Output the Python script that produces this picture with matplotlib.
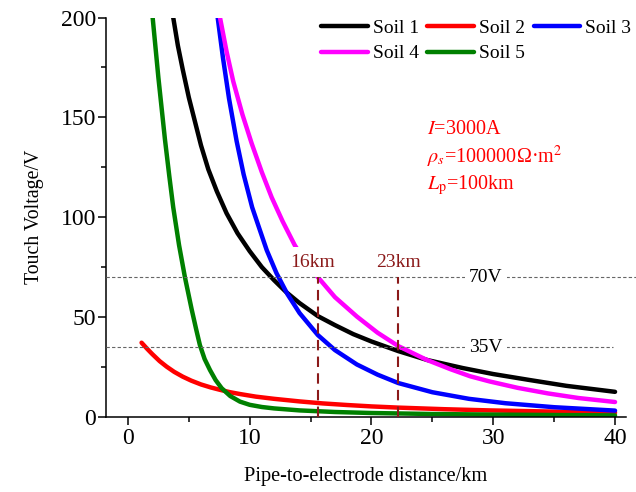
import numpy as np
import matplotlib
matplotlib.use("Agg")
import matplotlib.pyplot as plt

plt.rcParams['font.family'] = ['Liberation Serif', 'DejaVu Serif']
plt.rcParams['mathtext.fontset'] = 'stix'

# curve data (distance km, touch voltage V)
soil1_x = [3.72, 4.1, 4.5, 5.0, 5.5, 6.0, 6.6, 7.3, 8.1, 9.0, 10.0, 11.0, 12.0, 13.0, 14.1,
           15.6, 17.0, 18.5, 20.0, 22.2, 24.6, 27.5, 30.0, 33.0, 36.0, 40.0]
soil1_y = [200, 186, 174, 160, 148, 136, 124, 113, 102, 92, 83, 75, 68.5, 62.5, 57,
           50.5, 46, 41.5, 37.8, 33, 28.5, 24.5, 21.5, 18.5, 15.6, 12.6]

soil2_x = [1.12, 1.6, 2.0, 2.6, 3.18, 3.8, 4.5, 5.2, 6.0, 6.8, 7.56, 8.4, 9.2, 10.5, 12,
           14.1, 16, 18, 20, 22.2, 26, 29.7, 35, 40]
soil2_y = [37.2, 34, 31.5, 28, 25.2, 22.6, 20.2, 18.2, 16.3, 14.8, 13.6, 12.4, 11.5, 10.2, 9.1,
           7.8, 6.8, 6.0, 5.3, 4.7, 3.9, 3.3, 2.7, 2.2]

soil3_x = [7.37, 7.8, 8.3, 8.93, 9.5, 10.2, 10.7, 11.4, 12.2, 13.1, 14.1, 15.6, 17.0, 18.8,
           20.5, 22.2, 25, 28, 31, 35, 40]
soil3_y = [200, 180, 159.5, 138, 121.5, 105, 96, 83.5, 72, 61.5, 52, 41, 33.5, 26.3,
           21.2, 17, 12.4, 9.1, 6.9, 4.9, 3.2]

soil4_x = [7.56, 8.1, 8.65, 9.4, 10.16, 11.0, 11.8, 12.7, 13.7, 14.6, 15.6, 17.0, 18.8, 20.5,
           22.2, 24.5, 26.5, 28.1, 29.7, 32, 34.5, 37, 40]
soil4_y = [200, 183, 168, 151.5, 137, 122.5, 110, 98, 86, 77.5, 70, 60, 50.3, 42.2,
           35.5, 28.7, 23.9, 20.4, 17.8, 14.6, 11.8, 9.5, 7.5]

soil5_x = [2.03, 2.5, 3.04, 3.4, 3.72, 4.2, 4.68, 5.23, 5.6, 5.91, 6.3, 6.74, 7.2, 7.7, 8.4,
           9.2, 10.0, 11, 12, 14.1, 17, 20, 25, 30, 35, 40]
soil5_y = [200, 170, 139, 120.5, 105, 86, 70, 54, 44, 36, 29, 23.5, 18.5, 14.4, 10.5,
           7.7, 6.1, 5, 4.3, 3.3, 2.5, 2.0, 1.5, 1.2, 1.0, 0.8]

labels = ['Soil 1', 'Soil 2', 'Soil 3', 'Soil 4', 'Soil 5']
colors = ['black', '#ff0000', '#0000ff', '#ff00ff', '#008000']

limits = [70, 35]          # V
cross_km = [15.6, 22.2]    # where the dashed markers stand
cross_txt = ['16km', '23km']

fig = plt.figure(figsize=(6.36, 4.92), dpi=100)
ax = fig.add_axes([106/636, 75/492, 520/636, 399.5/492])

xs = [soil1_x, soil2_x, soil3_x, soil4_x, soil5_x]
ys = [soil1_y, soil2_y, soil3_y, soil4_y, soil5_y]
handles = []
for x, y, c, lab in zip(xs, ys, colors, labels):
    h, = ax.plot(x, y, color=c, lw=3.2, label=lab, solid_capstyle='round',
                 solid_joinstyle='round', zorder=2)
    handles.append(h)

# gray limit lines
ax.plot([-1.8, 41.7], [limits[0], limits[0]], color='#666666', lw=0.8,
        ls=(0, (3, 2)), zorder=4, clip_on=False)
ax.plot([-1.8, 39.8], [limits[1], limits[1]], color='#666666', lw=0.8,
        ls=(0, (3, 2)), zorder=4, clip_on=False)
for v in limits:
    ax.text(29.4, v, '%dV' % v, fontsize=14, ha='center', va='center', zorder=5,
            bbox=dict(facecolor='white', edgecolor='none', pad=3))

# dashed markers
for k in cross_km:
    ax.plot([k, k], [0, 70], color='#8b1a1a', lw=1.5, ls=(0, (5, 3)), zorder=4)
for k, t, dx in zip(cross_km, cross_txt, [-0.4, 0]):
    ax.text(k + dx, 77.5, t, fontsize=14, color='#8b1a1a', ha='center', va='center',
            zorder=3, bbox=dict(facecolor='white', edgecolor='none', pad=4.5))

# parameters
ax.text(24.6, 144, r'$I$=3000A', fontsize=14.5, color='#ff0000', va='center')
ax.text(24.6, 130, r'$\rho_s$=100000Ω·m$^2$', fontsize=14.5, color='#ff0000', va='center')
ax.text(24.6, 116, r'$L_\mathrm{p}$=100km', fontsize=14.5, color='#ff0000', va='center')

ax.set_xlim(-1.8, 40.9)
ax.set_ylim(0, 200)
ax.set_xticks([0, 10, 20, 30, 40])
ax.set_yticks([0, 50, 100, 150, 200])
ax.set_xticks(np.arange(0, 41, 5), minor=True)
ax.set_yticks(np.arange(0, 201, 25), minor=True)
ax.tick_params(which='major', direction='out', length=6, width=1.1, labelsize=17)
ax.tick_params(axis='x', which='major', pad=2)
ax.tick_params(axis='y', which='major', pad=1)
ax.tick_params(which='minor', direction='out', length=3.5, width=1.1)
for s in ['top', 'right']:
    ax.spines[s].set_visible(False)
for s in ['left', 'bottom']:
    ax.spines[s].set_linewidth(1.1)

ax.set_xlabel('Pipe-to-electrode distance/km', fontsize=14.7, labelpad=13)
ax.set_ylabel('Touch Voltage/V', fontsize=14.3, labelpad=12)

order = [0, 3, 1, 4, 2]
fig.legend([handles[i] for i in order], [labels[i] for i in order], ncol=3,
           loc='upper left', bbox_to_anchor=(321/636, 1 - 19/492), frameon=False,
           fontsize=14, handlelength=2.4, handletextpad=0.25, columnspacing=0.45,
           labelspacing=0.42, borderpad=0, borderaxespad=0)

fig.savefig('out.png', dpi=100)
